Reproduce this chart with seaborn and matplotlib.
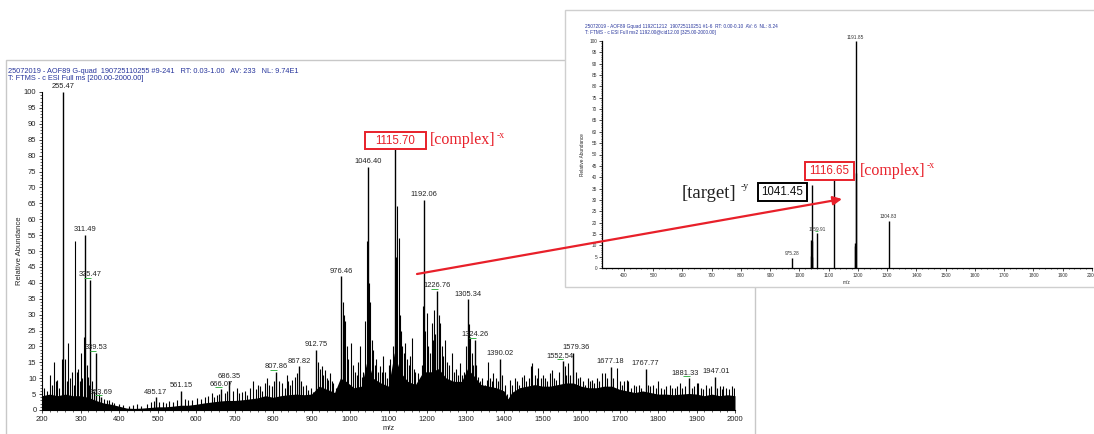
import matplotlib
matplotlib.use("Agg")
import matplotlib.pyplot as plt
import seaborn as sns
from matplotlib.patches import Rectangle, FancyArrowPatch
from matplotlib.ticker import MultipleLocator

# ---------------- data ----------------
# main spectrum: labelled peaks
peak_mz = [255.47, 311.49, 325.47, 339.53, 353.69, 495.17, 561.15, 666.07, 686.35,
           807.86, 867.82, 912.75, 976.46, 1046.40, 1115.70, 1192.06, 1226.76,
           1305.34, 1324.26, 1390.02, 1552.54, 1579.36, 1677.18, 1767.77, 1881.33, 1947.01]
peak_pct = [100, 55, 41, 18, 4, 4, 6, 6.5, 9,
            12, 13.7, 19, 42, 76.5, 82, 66, 37.5,
            34.8, 22, 16, 15.3, 18, 13.6, 13, 10, 10.5]
# peaks whose label carries the small green mark
green_mark_mz = [325.47, 339.53, 353.69, 666.07, 807.86, 1226.76, 1324.26, 1552.54, 1881.33]

# main spectrum: unlabelled spikes
noise_mz = [205, 212, 221, 226, 231, 236, 240, 245, 251, 260, 264, 268, 273, 277, 283, 287,
            291, 294, 298, 301, 305, 309, 316, 320, 323, 330, 334, 347, 361, 368, 374, 381,
            388, 399, 410, 425, 437, 446, 458, 472, 483, 490, 505, 515, 522, 530, 541, 550,
            571, 580, 590, 602, 612, 623, 632, 641, 648, 654, 660, 675, 680, 695, 706, 712,
            719, 726, 732, 741, 749, 755, 760, 766, 772, 778, 784, 790, 797, 802, 816, 823,
            830, 836, 840, 844, 850, 857, 862, 873, 879, 885, 892, 898, 905, 918, 922, 927,
            931, 935, 940, 944, 948, 952, 957, 963, 970, 981, 984, 987, 991, 995, 1002, 1007,
            1012, 1018, 1022, 1027, 1030, 1035, 1040, 1043, 1049, 1052, 1056, 1060, 1064, 1068,
            1073, 1078, 1082, 1086, 1090, 1095, 1100, 1104, 1108, 1112, 1119, 1123, 1127, 1130,
            1132, 1136, 1140, 1143, 1148, 1152, 1156, 1160, 1165, 1170, 1177, 1182, 1186, 1189,
            1196, 1199, 1203, 1208, 1212, 1215, 1218, 1222, 1231, 1234, 1238, 1242, 1247, 1252,
            1257, 1264, 1270, 1275, 1280, 1286, 1292, 1297, 1301, 1308, 1312, 1316, 1320, 1328,
            1333, 1338, 1344, 1350, 1355, 1359, 1364, 1368, 1372, 1378, 1384, 1396, 1402, 1408,
            1416, 1422, 1428, 1434, 1440, 1446, 1452, 1458, 1464, 1469, 1474, 1480, 1485, 1489,
            1495, 1500, 1506, 1512, 1519, 1524, 1530, 1536, 1544, 1558, 1562, 1567, 1572, 1586,
            1592, 1597, 1604, 1610, 1619, 1624, 1628, 1635, 1642, 1648, 1654, 1662, 1668, 1684,
            1693, 1700, 1706, 1712, 1719, 1723, 1730, 1737, 1744, 1750, 1756, 1773, 1780, 1787,
            1794, 1801, 1808, 1815, 1822, 1831, 1836, 1843, 1850, 1857, 1863, 1870, 1888, 1894,
            1900, 1905, 1912, 1918, 1925, 1932, 1938, 1953, 1960, 1966, 1970, 1977, 1984, 1991, 1997]
noise_pct = [7, 6, 11, 8, 15, 9, 9.5, 7, 16, 16, 9, 21, 10, 12, 8, 53,
             12, 13, 9, 18, 10, 23, 14, 10.5, 8, 9, 6, 5, 3.5, 3, 3.2, 2.6,
             2.2, 2, 1.5, 1.2, 1.5, 1.8, 1.4, 2, 2.4, 2.8, 2.5, 2.6, 2.2, 2.8, 2.6, 3,
             3.4, 3, 3.2, 3.8, 3.5, 4.2, 4.5, 5.3, 4, 4.7, 5, 5.5, 6, 6, 6.8, 5.5,
             5.8, 6, 4.7, 7, 9, 6.5, 8, 7.4, 6, 8.5, 10, 8, 7.4, 9, 9, 8.4,
             7, 11, 9, 8, 9.5, 10.5, 11.5, 9, 7.4, 8, 6.3, 7, 5.8, 15, 13, 13.7,
             11, 12.7, 10, 9.5, 11.6, 9, 8.4, 7, 6.3, 34, 30, 28, 20, 16, 21, 14,
             12, 11, 15, 20, 10.5, 12, 28, 53, 40, 34, 22, 19, 14, 16,
             12, 13.7, 12, 17, 12, 10, 14, 16, 12, 20, 48, 64, 54, 30,
             25, 20, 18, 21, 16, 14, 17, 22.7, 13, 12, 11.6, 9, 14, 32.7,
             25, 30.6, 20, 18, 27.4, 22, 31.6, 24, 30, 27.4, 20, 17, 22, 15,
             14, 18, 12, 13, 11, 14.8, 11, 12, 20, 27, 23, 18, 14, 14,
             10.5, 9, 10, 8, 9.5, 15, 10, 9, 11.6, 10, 9, 11, 8, 5,
             9.5, 8, 10, 9, 8, 10.5, 11, 9, 10, 13.7, 14.8, 11, 10, 13.3,
             10, 11, 10, 9, 11.6, 12.7, 10, 9.5, 12, 13.7, 11, 14.8, 11, 12,
             10, 10.5, 9, 8, 10, 9, 9.5, 8.5, 10, 9, 11.6, 11.6, 10, 10,
             13.3, 9, 8, 9, 9.5, 9, 7, 8, 7.5, 8, 7, 8, 7.5, 8,
             7, 9, 7, 6.5, 7.5, 8, 6.8, 7, 7.5, 8.4, 7, 7.5, 7, 7.5,
             8.4, 8.4, 7, 6.5, 8, 7, 7.5, 7, 7.5, 6.5, 7.4, 7, 6.5, 7.4, 7]

# main spectrum: dense noise floor (solid black mass)
floor_mz = [200, 220, 240, 260, 280, 300, 320, 340, 360, 380, 400, 420, 440, 460, 480, 500,
            520, 540, 560, 580, 600, 620, 640, 660, 680, 700, 720, 740, 760, 780, 800, 820,
            840, 860, 880, 900, 920, 940, 960, 975, 990, 1010, 1030, 1045, 1060, 1080, 1100,
            1115, 1130, 1150, 1170, 1190, 1210, 1230, 1250, 1270, 1290, 1305, 1320, 1340,
            1360, 1380, 1400, 1410, 1420, 1440, 1460, 1480, 1500, 1520, 1540, 1560, 1580,
            1600, 1620, 1640, 1660, 1680, 1700, 1720, 1740, 1760, 1780, 1800, 1820, 1840,
            1860, 1880, 1900, 1920, 1940, 1960, 1980, 2000]
floor_pct = [4.5, 5, 4.5, 5, 4.5, 4.5, 4, 3, 2.2, 1.8, 1.2, 0.6, 0.5, 0.6, 0.8, 1.0,
             1.0, 1.2, 1.5, 1.5, 1.8, 2.2, 2.5, 2.8, 3.0, 3.0, 3.2, 3.5, 3.8, 4.5, 4.0, 4.5,
             4.8, 5.0, 4.8, 5.0, 7.5, 6.5, 5.5, 10, 9, 7, 7.5, 16, 10, 8.5, 7.5,
             18, 12, 9, 8, 12, 12, 13, 10, 9, 9, 13, 11, 8,
             7.5, 7, 6, 3.5, 5.5, 7, 7.5, 8, 7.5, 7.5, 8, 8.5, 8.5,
             7.5, 7, 7, 7.5, 7.5, 6.5, 6, 5.5, 6, 5.5, 5, 5, 4.8,
             5, 5.2, 5, 4.5, 5, 4.5, 4.8, 4.5]

# inset (MS2) spectrum
inset_mz = [975.28, 1038.5, 1040.0, 1041.45, 1042.6, 1044.0, 1059.91, 1116.65,
            1189.5, 1190.6, 1191.85, 1192.9, 1304.83]
inset_pct = [4.5, 5.5, 12.5, 36.5, 12, 5, 15.4, 39,
             11, 9.5, 100, 42, 20.8]
inset_labels = {975.28: "975.28", 1059.91: "1059.91", 1191.85: "1191.85", 1304.83: "1304.83"}

main_header = ["25072019 - AOF89 G-quad  190725110255 #9-241   RT: 0.03-1.00   AV: 233   NL: 9.74E1",
               "T: FTMS - c ESI Full ms [200.00-2000.00]"]
inset_header = ["25072019 - AOF89 Gquad 1192C1212  190725110251 #1-6  RT: 0.00-0.10  AV: 6  NL: 8.24",
                "T: FTMS - c ESI Full ms2 1192.00@cid12.00 [325.00-2000.00]"]

# ---------------- styling ----------------
sns.set_theme(style="ticks")
plt.rcParams['font.family'] = ['Liberation Sans', 'DejaVu Sans']

W, H = 1094, 434
fig = plt.figure(figsize=(W / 100, H / 100), dpi=100)
fig.patch.set_facecolor("white")


def fx(x):
    return x / W


def fy(y):
    return 1 - y / H


BLUE = "#27359c"
RED = "#e8202a"
GREEN = "#3cb44b"
SERIF = ['Liberation Serif', 'DejaVu Serif']

# main panel frame
fig.add_artist(Rectangle((fx(6), fy(445)), fx(755) - fx(6), fy(60) - fy(445),
                         transform=fig.transFigure, facecolor="white",
                         edgecolor="#c8c8c8", lw=1.0, zorder=-5))

# ---------------- main axes ----------------
ax = fig.add_axes([fx(42), fy(410), fx(735) - fx(42), fy(92) - fy(410)])
ax.set_facecolor("none")
ax.set_zorder(0)
ax.fill_between(floor_mz, 0, floor_pct, color="black", lw=0)
ax.vlines(noise_mz, 0, noise_pct, color="black", lw=0.8)
ax.vlines(peak_mz, 0, peak_pct, color="black", lw=1.0)
label_dx = {1881.33: -3, 1947.01: 1, 1552.54: -2, 1579.36: 2}
for mz, h in zip(peak_mz, peak_pct):
    if abs(mz - 1115.70) < 0.01:
        continue
    ax.annotate(f"{mz:.2f}", (mz, h), xytext=(label_dx.get(mz, 0), 1.2),
                textcoords="offset points", ha="center", va="bottom",
                fontsize=5.4, color="#222222")
for mz, h in zip(peak_mz, peak_pct):
    if mz in green_mark_mz:
        ax.hlines(h + 0.6, mz - 16, mz + 2, color=GREEN, lw=0.7)
ax.set_xlim(200, 2000)
ax.set_ylim(0, 100)
ax.xaxis.set_major_locator(MultipleLocator(100))
ax.xaxis.set_minor_locator(MultipleLocator(20))
ax.yaxis.set_major_locator(MultipleLocator(5))
ax.yaxis.set_minor_locator(MultipleLocator(1))
ax.tick_params(axis="both", which="major", direction="out", length=2.5, width=0.6,
               labelsize=5.5, pad=1.5, colors="#222222")
ax.tick_params(axis="both", which="minor", direction="out", length=1.3, width=0.5)
sns.despine(ax=ax)
for s in ("left", "bottom"):
    ax.spines[s].set_linewidth(0.8)
    ax.spines[s].set_color("black")
ax.set_xlabel("m/z", fontsize=5.5, labelpad=1.5)
ax.set_ylabel("Relative Abundance", fontsize=5.5, labelpad=1)

fig.text(fx(8), fy(71.5), main_header[0], fontsize=5.3, color=BLUE, va="center")
fig.text(fx(8), fy(78.5), main_header[1], fontsize=5.3, color=BLUE, va="center")

# main annotation: 1115.70 box + [complex]-x
fig.add_artist(Rectangle((fx(365), fy(148.5)), fx(426) - fx(365), fy(131.5) - fy(148.5),
                         transform=fig.transFigure, facecolor="white", edgecolor=RED,
                         lw=1.4, zorder=6))
fig.text(fx(395.5), fy(140.5), "1115.70", fontsize=8.3, color=RED, ha="center",
         va="center", zorder=7)
fig.text(fx(430), fy(140), "[complex]", fontsize=11.5, color=RED, family=SERIF,
         ha="left", va="center", zorder=7)
fig.text(fx(497), fy(135), "-x", fontsize=7, color=RED, family=SERIF,
         ha="left", va="center", zorder=7)

# ---------------- inset panel ----------------
fig.add_artist(Rectangle((fx(565), fy(287)), fx(1110) - fx(565), fy(10) - fy(287),
                         transform=fig.transFigure, facecolor="white",
                         edgecolor="#cfcfcf", lw=1.0, zorder=1))

ax2 = fig.add_axes([fx(602), fy(268), fx(1092) - fx(602), fy(41) - fy(268)])
ax2.set_zorder(2)
ax2.set_facecolor("white")
ax2.vlines(inset_mz, 0, inset_pct, color="black", lw=1.0)
for mz, h in zip(inset_mz, inset_pct):
    if mz in inset_labels:
        ax2.annotate(inset_labels[mz], (mz, h), xytext=(0, 1.0), textcoords="offset points",
                     ha="center", va="bottom", fontsize=3.4, color="#333333")
ax2.hlines(15.4 + 0.8, 1059.91 - 8, 1059.91 + 4, color=GREEN, lw=0.6)
ax2.set_xlim(325, 2000)
ax2.set_ylim(0, 100)
ax2.xaxis.set_minor_locator(MultipleLocator(20))
ax2.yaxis.set_major_locator(MultipleLocator(5))
ax2.yaxis.set_minor_locator(MultipleLocator(1))
ax2.set_xticks(range(400, 2001, 100))
ax2.tick_params(axis="both", which="major", direction="out", length=2, width=0.6,
                labelsize=3.4, pad=1.5, colors="#333333")
ax2.tick_params(axis="both", which="minor", direction="out", length=1.0, width=0.5)
sns.despine(ax=ax2)
for s in ("left", "bottom"):
    ax2.spines[s].set_linewidth(0.9)
    ax2.spines[s].set_color("black")
ax2.set_xlabel("m/z", fontsize=3.4, labelpad=1.5)
ax2.set_ylabel("Relative Abundance", fontsize=3.4, labelpad=3)

fig.text(fx(585), fy(26.5), inset_header[0], fontsize=3.4, color=BLUE, va="center", zorder=5)
fig.text(fx(585), fy(32.5), inset_header[1], fontsize=3.4, color=BLUE, va="center", zorder=5)

# inset annotations
fig.text(fx(682), fy(194), "[target]", fontsize=13.5, color="#222222", family=SERIF,
         ha="left", va="center", zorder=7)
fig.text(fx(740.5), fy(187), "-y", fontsize=7, color="#222222", family=SERIF,
         ha="left", va="center", zorder=7)
fig.add_artist(Rectangle((fx(758), fy(200.5)), fx(807) - fx(758), fy(183) - fy(200.5),
                         transform=fig.transFigure, facecolor="white", edgecolor="black",
                         lw=1.4, zorder=6))
fig.text(fx(782.5), fy(192), "1041.45", fontsize=8.3, color="#111111", ha="center",
         va="center", zorder=7)
fig.add_artist(Rectangle((fx(805), fy(180)), fx(854) - fx(805), fy(162) - fy(180),
                         transform=fig.transFigure, facecolor="white", edgecolor=RED,
                         lw=1.4, zorder=6))
fig.text(fx(829.5), fy(171.5), "1116.65", fontsize=8.3, color=RED, ha="center",
         va="center", zorder=7)
fig.text(fx(860), fy(171), "[complex]", fontsize=11.5, color=RED, family=SERIF,
         ha="left", va="center", zorder=7)
fig.text(fx(927), fy(166), "-x", fontsize=7, color=RED, family=SERIF,
         ha="left", va="center", zorder=7)

# red arrow from main spectrum to the inset
fig.add_artist(FancyArrowPatch((fx(417), fy(274)), (fx(842), fy(199)),
                               transform=fig.transFigure, arrowstyle="-|>",
                               mutation_scale=13, color=RED, lw=1.6, zorder=8,
                               shrinkA=0, shrinkB=0))

fig.savefig("out.png", dpi=100, facecolor="white")
